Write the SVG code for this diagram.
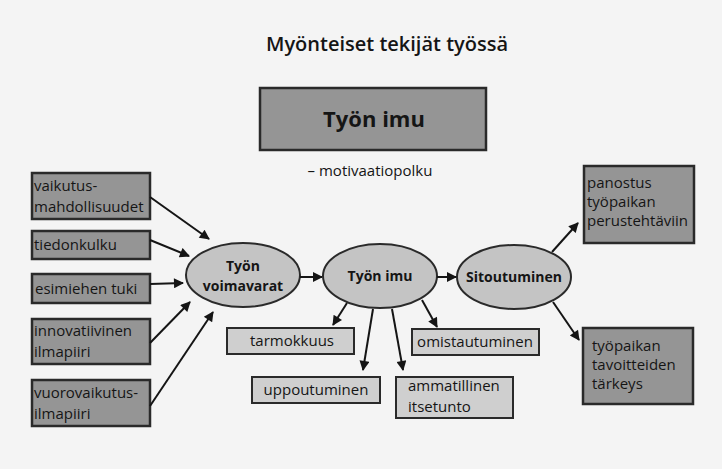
<svg xmlns="http://www.w3.org/2000/svg" width="722" height="469" viewBox="0 0 722 469">
<style>
text{font-family:"Open Sans","Noto Sans","DejaVu Sans",sans-serif;fill:#151515}
.dark{fill:#959595;stroke:#2a2a2a;stroke-width:2.5}
.light{fill:#cfcfcf;stroke:#2a2a2a;stroke-width:2}
.ell{fill:#c4c4c4;stroke:#2a2a2a;stroke-width:2}
.t{font-size:15px}
.b{font-size:14px;font-weight:bold;text-anchor:middle}
.c{text-anchor:middle}
.con line{stroke:#151515;stroke-width:2;marker-end:url(#ah)}
</style>
<defs>
<marker id="ah" viewBox="0 0 10 10" refX="9" refY="5" markerWidth="6" markerHeight="5" orient="auto" markerUnits="strokeWidth">
<path d="M0,0 L10,5 L0,10 z" fill="#151515"/>
</marker>
</defs>
<rect width="722" height="469" fill="#f4f4f4"/>
<text x="387" y="51" font-size="20" font-weight="600" text-anchor="middle">Myönteiset tekijät työssä</text>

<g id="tyon-imu-title">
<rect class="dark" x="260" y="88" width="226" height="62"/>
<text x="374" y="127" font-size="22" font-weight="bold" text-anchor="middle">Työn imu</text>
</g>
<text x="370" y="176" class="t c">– motivaatiopolku</text>

<g id="vaikutus"><rect class="dark" x="32" y="173" width="118" height="46"/>
<text class="t" x="34" y="191">vaikutus-</text><text class="t" x="34" y="212">mahdollisuudet</text></g>
<g id="tiedonkulku"><rect class="dark" x="32" y="231" width="118" height="28"/>
<text class="t" x="34" y="250">tiedonkulku</text></g>
<g id="esimiehen"><rect class="dark" x="32" y="274" width="118" height="29"/>
<text class="t" x="35" y="294">esimiehen tuki</text></g>
<g id="innovatiivinen"><rect class="dark" x="32" y="319" width="118" height="45"/>
<text class="t" x="34" y="336">innovatiivinen</text><text class="t" x="34" y="357">ilmapiiri</text></g>
<g id="vuorovaikutus"><rect class="dark" x="32" y="380" width="118" height="46"/>
<text class="t" x="34" y="398">vuorovaikutus-</text><text class="t" x="34" y="419">ilmapiiri</text></g>

<g id="voimavarat"><ellipse class="ell" cx="243" cy="275" rx="57" ry="32"/>
<text class="b" x="243" y="271">Työn</text><text class="b" x="243" y="291">voimavarat</text></g>
<g id="imu"><ellipse class="ell" cx="380" cy="276" rx="57" ry="32"/>
<text class="b" x="380" y="281">Työn imu</text></g>
<g id="sitoutuminen"><ellipse class="ell" cx="514" cy="277" rx="57" ry="32"/>
<text class="b" x="514" y="282">Sitoutuminen</text></g>

<g id="tarmokkuus"><rect class="light" x="227" y="328" width="127" height="26"/>
<text class="t c" x="292" y="346">tarmokkuus</text></g>
<g id="uppoutuminen"><rect class="light" x="252" y="377" width="128" height="26"/>
<text class="t c" x="316" y="395">uppoutuminen</text></g>
<g id="omistautuminen"><rect class="light" x="412" y="329" width="127" height="26"/>
<text class="t c" x="475" y="347">omistautuminen</text></g>
<g id="ammatillinen"><rect class="light" x="396" y="377" width="117" height="41"/>
<text class="t" x="408" y="391">ammatillinen</text><text class="t" x="408" y="412">itsetunto</text></g>

<g id="panostus"><rect class="dark" x="584" y="166" width="110" height="77"/>
<text class="t" x="587" y="188">panostus</text><text class="t" x="587" y="207">työpaikan</text><text class="t" x="587" y="226">perustehtäviin</text></g>
<g id="tavoitteiden"><rect class="dark" x="583" y="328" width="110" height="76"/>
<text class="t" x="592" y="351">työpaikan</text><text class="t" x="592" y="370">tavoitteiden</text><text class="t" x="592" y="389">tärkeys</text></g>

<g class="con" id="connectors">
<line x1="150" y1="197" x2="209" y2="239"/>
<line x1="150" y1="240" x2="189" y2="256"/>
<line x1="150" y1="284" x2="183" y2="283"/>
<line x1="150" y1="343" x2="190" y2="302"/>
<line x1="150" y1="406" x2="213" y2="312"/>
<line x1="300" y1="277" x2="322" y2="277"/>
<line x1="437" y1="277" x2="456" y2="277"/>
<line x1="347" y1="303" x2="333" y2="325"/>
<line x1="373" y1="309" x2="363" y2="370"/>
<line x1="392" y1="309" x2="403" y2="370"/>
<line x1="422" y1="300" x2="437" y2="327"/>
<line x1="552" y1="252" x2="578" y2="223"/>
<line x1="553" y1="302" x2="579" y2="340"/>
</g>
</svg>
